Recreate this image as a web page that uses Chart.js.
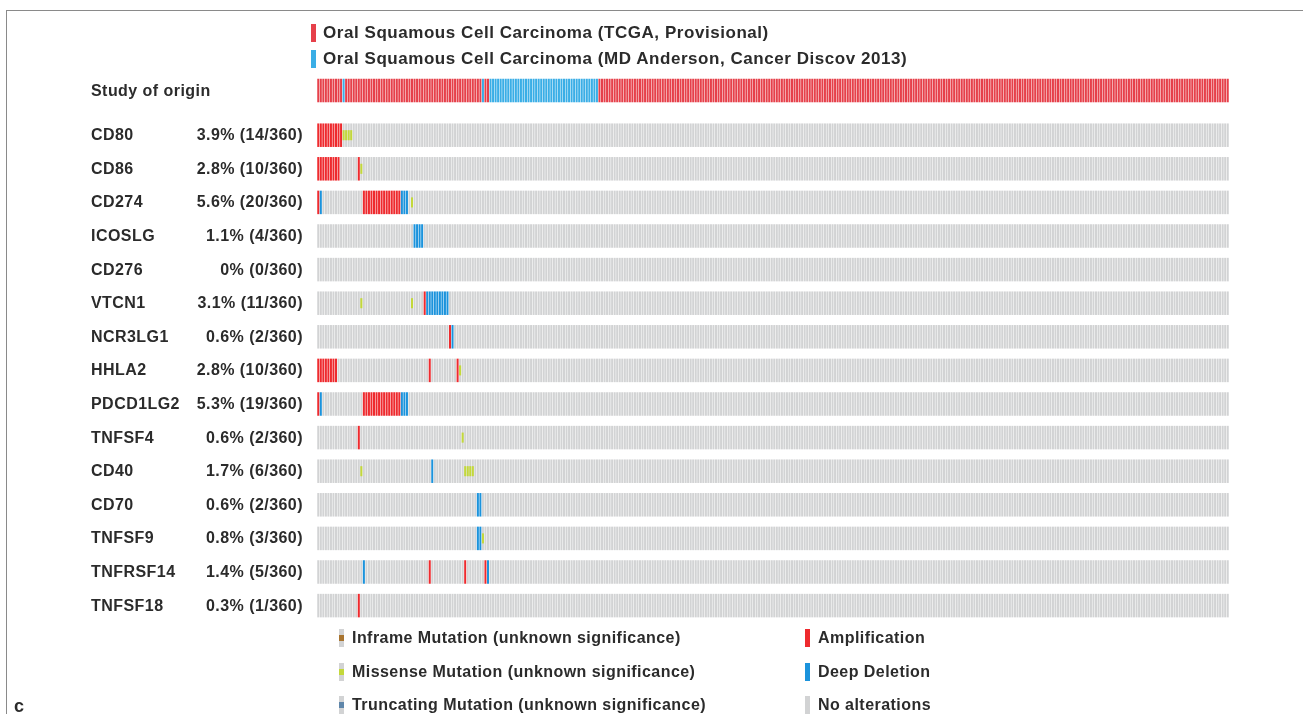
<!DOCTYPE html>
<html>
<head>
<meta charset="utf-8">
<script src="https://cdn.jsdelivr.net/npm/chart.js@4.4.1/dist/chart.umd.min.js"></script>
<style>
  body { margin: 0; background: #fff; }
  #wrap { position: relative; width: 1303px; height: 714px; overflow: hidden;
          font-family: "Liberation Sans", Arial, sans-serif; font-weight: bold; color: #2b2b2b; }
  #frame { position: absolute; left: 6px; top: 10px; width: 1400px; height: 800px;
           border-top: 1.5px solid #8a8a8a; border-left: 1.5px solid #8a8a8a; }
  canvas { position: absolute; left: 0; top: 0; }
  .lbl { position: absolute; font-size: 16px; letter-spacing: 0.45px; line-height: 18px; white-space: nowrap; }
  .big { font-size: 17px; letter-spacing: 0.55px; }
  .mk { position: absolute; width: 5px; }
  .inner { position: absolute; left: 0; width: 5px; height: 6px; }
</style>
</head>
<body>
<div id="wrap">
  <div id="frame"></div>
  <canvas id="onco" width="1303" height="714"></canvas>
</div>
<script>
document.addEventListener("DOMContentLoaded", function() {
  const sampleCount = 360;
  const genes = ["CD80", "CD86", "CD274", "ICOSLG", "CD276", "VTCN1", "NCR3LG1", "HHLA2",
                 "PDCD1LG2", "TNFSF4", "CD40", "CD70", "TNFSF9", "TNFRSF14", "TNFSF18"];
  const alteredText = ["3.9% (14/360)", "2.8% (10/360)", "5.6% (20/360)", "1.1% (4/360)", "0% (0/360)",
                       "3.1% (11/360)", "0.6% (2/360)", "2.8% (10/360)", "5.3% (19/360)", "0.6% (2/360)",
                       "1.7% (6/360)", "0.6% (2/360)", "0.8% (3/360)", "1.4% (5/360)", "0.3% (1/360)"];

  // [first sample, last sample] of MD Anderson samples in the study row
  const mdAndersonRuns = [[10, 10], [65, 65], [68, 110]];

  // [gene index, first sample, last sample]
  const amplification = [
    [0, 0, 9], [1, 0, 8], [1, 16, 16], [2, 0, 0], [2, 18, 32], [5, 42, 42], [6, 52, 52],
    [7, 0, 7], [7, 44, 44], [7, 55, 55], [8, 0, 0], [8, 18, 32], [9, 16, 16],
    [13, 44, 44], [13, 58, 58], [13, 66, 66], [14, 16, 16]
  ];
  const deepDeletion = [
    [2, 1, 1], [2, 33, 35], [3, 38, 41], [5, 43, 51], [6, 53, 53], [8, 1, 1], [8, 33, 35],
    [10, 45, 45], [11, 63, 64], [12, 63, 64], [13, 18, 18], [13, 67, 67]
  ];
  const missense = [
    [0, 10, 13], [1, 17, 17], [2, 37, 37], [5, 17, 17], [5, 37, 37], [7, 56, 56],
    [9, 57, 57], [10, 17, 17], [10, 58, 61], [12, 65, 65]
  ];

  const colTCGA = "#e6404a", colMDA = "#3aaee6";
  const colAmp = "#ee2a2e", colDel = "#1b93dc", colNone = "#d2d3d4", colMis = "#c3d83a";
  const studyRow = -1.33, half = 0.35, mutHalf = 0.15;

  const labels = [];
  for (let i = 0; i < sampleCount; i++) labels.push("Sample " + (i + 1));

  const studyColors = labels.map(() => colTCGA);
  mdAndersonRuns.forEach(([a, b]) => { for (let s = a; s <= b; s++) studyColors[s] = colMDA; });

  const datasets = [{
    label: "Study of origin",
    data: labels.map(() => [studyRow - half, studyRow + half]),
    backgroundColor: studyColors,
    order: 1
  }];

  genes.forEach((g, r) => {
    const colors = labels.map(() => colNone);
    amplification.filter(a => a[0] === r).forEach(([, a, b]) => { for (let s = a; s <= b; s++) colors[s] = colAmp; });
    deepDeletion.filter(a => a[0] === r).forEach(([, a, b]) => { for (let s = a; s <= b; s++) colors[s] = colDel; });
    datasets.push({
      label: g,
      data: labels.map(() => [r - half, r + half]),
      backgroundColor: colors,
      order: 1
    });
    const muts = missense.filter(a => a[0] === r);
    if (muts.length) {
      const mdata = labels.map(() => null);
      muts.forEach(([, a, b]) => { for (let s = a; s <= b; s++) mdata[s] = [r - mutHalf, r + mutHalf]; });
      datasets.push({ label: g + " missense", data: mdata, backgroundColor: colMis, order: 0 });
    }
  });

  const chart = new Chart(document.getElementById("onco"), {
    type: "bar",
    data: { labels: labels, datasets: datasets },
    options: {
      responsive: false,
      animation: false,
      layout: { padding: { left: 317, right: 74, top: 68, bottom: 58 } },
      datasets: { bar: { grouped: false, barPercentage: 0.8, categoryPercentage: 1, borderWidth: 0 } },
      plugins: { legend: { display: false }, tooltip: { enabled: true } },
      scales: {
        x: { type: "category", display: false, offset: true, grid: { display: false } },
        y: { type: "linear", display: false, reverse: true, min: -2, max: 15.5 }
      }
    }
  });

  const wrap = document.getElementById("wrap");
  function addText(txt, x, y, opts) {
    const d = document.createElement("div");
    d.className = "lbl" + (opts && opts.big ? " big" : "");
    d.textContent = txt;
    d.style.top = (y - 9) + "px";
    if (opts && opts.right) { d.style.right = (1303 - x) + "px"; d.style.textAlign = "right"; }
    else d.style.left = x + "px";
    if (opts && opts.size) d.style.fontSize = opts.size;
    wrap.appendChild(d);
    return d;
  }
  function addMarker(x, y, h, color, innerColor) {
    const m = document.createElement("div");
    m.className = "mk";
    m.style.left = x + "px";
    m.style.top = (y - h / 2) + "px";
    m.style.height = h + "px";
    m.style.background = color;
    if (innerColor) {
      const i = document.createElement("div");
      i.className = "inner";
      i.style.background = innerColor;
      i.style.top = (h / 2 - 3) + "px";
      m.appendChild(i);
    }
    wrap.appendChild(m);
  }

  const yScale = chart.scales.y;
  addText("Study of origin", 91, yScale.getPixelForValue(studyRow));
  genes.forEach((g, r) => {
    const y = yScale.getPixelForValue(r);
    addText(g, 91, y);
    addText(alteredText[r], 303, y, { right: true });
  });

  // study legend
  addMarker(311, 33, 18, colTCGA);
  addText("Oral Squamous Cell Carcinoma (TCGA, Provisional)", 323, 33, { big: true });
  addMarker(311, 59, 18, colMDA);
  addText("Oral Squamous Cell Carcinoma (MD Anderson, Cancer Discov 2013)", 323, 59, { big: true });

  // alteration legend
  addMarker(339, 638, 18, colNone, "#a8742f");
  addText("Inframe Mutation (unknown significance)", 352, 638);
  addMarker(339, 672, 18, colNone, colMis);
  addText("Missense Mutation (unknown significance)", 352, 672);
  addMarker(339, 705, 18, colNone, "#5f86aa");
  addText("Truncating Mutation (unknown significance)", 352, 705);
  addMarker(805, 638, 18, colAmp);
  addText("Amplification", 818, 638);
  addMarker(805, 672, 18, colDel);
  addText("Deep Deletion", 818, 672);
  addMarker(805, 705, 18, colNone);
  addText("No alterations", 818, 705);

  addText("c", 14, 706, { size: "18px" });
});
</script>
</body>
</html>
